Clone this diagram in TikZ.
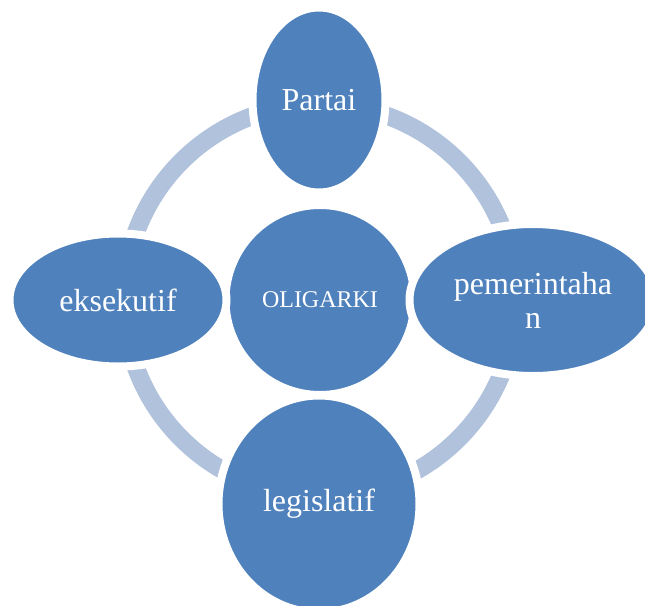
\documentclass[tikz,border=0pt]{standalone}
\usepackage{fontspec}
\setmainfont{Liberation Serif}
\usetikzlibrary{shapes.geometric}
\definecolor{nodeblue}{HTML}{4F81BD}
\definecolor{ringblue}{HTML}{B1C2DD}
\begin{document}
\begin{tikzpicture}[x=1pt,y=-1pt,
  bubble/.style={ellipse, fill=nodeblue, draw=white, line width=8pt, inner sep=0pt,
    text=white, font=\fontsize{32}{34}\selectfont, align=center},
  ring/.style={draw=ringblue, line width=18pt}]
\useasboundingbox (0,0) rectangle (645,605);
\coordinate (ctr) at (320,300);
\draw[ring] (ctr) circle (196pt);
\node[bubble, minimum width=189pt, minimum height=190pt, font=\fontsize{24}{26}\selectfont] (oli) at (ctr) {OLIGARKI};
\node[bubble, minimum width=133pt, minimum height=185pt] (partai) at (319,100) {Partai};
\node[bubble, minimum width=217pt, minimum height=133pt] (eks) at (118,300) {eksekutif};
\node[bubble, minimum width=247pt, minimum height=152pt] (pem) at (533,300) {pemerintaha\\n};
\node[bubble, minimum width=201pt, minimum height=217pt] (leg) at (319,504) {legislatif};
\end{tikzpicture}
\end{document}
